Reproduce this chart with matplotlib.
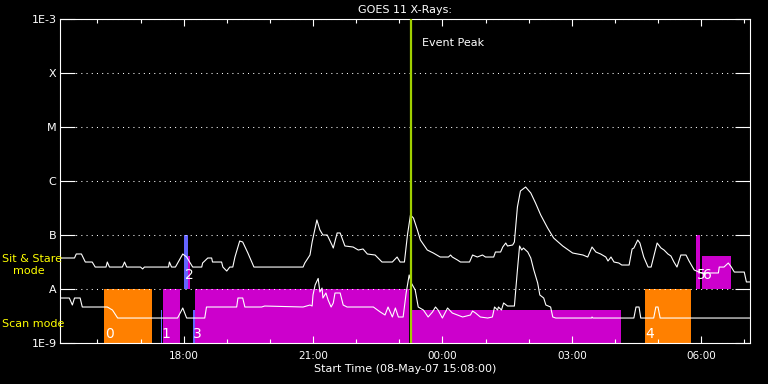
import matplotlib
matplotlib.use("Agg")
import matplotlib.pyplot as plt
from matplotlib.ticker import FixedLocator, NullLocator

# hours counted from 00:00 on 08-May-07 (values > 24 are on 09-May)
t_start = 15 + 8 / 60.0
t_end = t_start + 16.0
event_peak = 23.28

# GOES 11 long channel (1-8 A), W/m^2
time_long = [15.12, 15.47, 15.51, 15.63, 15.72, 15.88, 15.95, 16.09, 16.20, 16.23,
             16.28, 16.58, 16.63, 16.68, 17.00, 17.05, 17.09, 17.65, 17.67, 17.72,
             17.81, 17.98, 18.07, 18.21, 18.42, 18.44, 18.56, 18.65, 18.67, 18.88,
             18.91, 19.00, 19.07, 19.14, 19.19, 19.30, 19.37, 19.49, 19.63, 20.77,
             20.81, 20.93, 20.98, 21.09, 21.16, 21.23, 21.33, 21.44, 21.47, 21.56,
             21.63, 21.74, 21.93, 22.05, 22.16, 22.26, 22.44, 22.60, 22.84, 22.95,
             23.02, 23.12, 23.19, 23.26, 23.33, 23.42, 23.49, 23.65, 23.79, 23.95,
             24.14, 24.19, 24.23, 24.35, 24.42, 24.63, 24.70, 24.81, 24.93, 25.00,
             25.19, 25.23, 25.35, 25.40, 25.47, 25.51, 25.63, 25.67, 25.74, 25.81,
             25.93, 26.05, 26.16, 26.28, 26.44, 26.58, 26.79, 27.02, 27.26, 27.37,
             27.47, 27.56, 27.67, 27.79, 27.84, 27.91, 27.98, 28.09, 28.16, 28.33,
             28.40, 28.44, 28.53, 28.58, 28.67, 28.77, 28.84, 28.91, 28.98, 29.07,
             29.14, 29.23, 29.30, 29.37, 29.44, 29.53, 29.65, 29.72, 29.84, 30.00,
             30.40, 30.42, 30.53, 30.63, 30.70, 30.77, 31.00, 31.05, 31.16]
flux_long = [3.75e-8, 3.75e-8, 4.45e-8, 4.45e-8, 3.16e-8, 3.16e-8, 2.55e-8, 2.55e-8, 2.55e-8, 3.16e-8,
             2.55e-8, 2.55e-8, 3.16e-8, 2.55e-8, 2.55e-8, 2.35e-8, 2.55e-8, 2.55e-8, 3.16e-8, 2.55e-8,
             2.55e-8, 4.45e-8, 3.91e-8, 2.55e-8, 2.55e-8, 3.03e-8, 3.75e-8, 3.75e-8, 3.16e-8, 3.16e-8,
             2.55e-8, 2.15e-8, 2.55e-8, 2.55e-8, 3.91e-8, 7.74e-8, 7.42e-8, 4.64e-8, 2.55e-8, 2.55e-8,
             3.03e-8, 4.26e-8, 7.42e-8, 1.90e-7, 1.24e-7, 1.00e-7, 1.00e-7, 6.53e-8, 5.74e-8, 1.09e-7,
             1.09e-7, 6.26e-8, 5.99e-8, 5.27e-8, 5.51e-8, 4.45e-8, 4.26e-8, 3.16e-8, 3.16e-8, 3.91e-8,
             3.16e-8, 3.16e-8, 1.00e-7, 2.35e-7, 2.06e-7, 1.24e-7, 8.08e-8, 5.27e-8, 4.64e-8, 3.91e-8,
             3.91e-8, 4.26e-8, 3.91e-8, 3.44e-8, 3.16e-8, 3.16e-8, 4.26e-8, 3.91e-8, 4.26e-8, 3.91e-8,
             3.91e-8, 4.84e-8, 4.84e-8, 5.99e-8, 7.11e-8, 6.26e-8, 6.53e-8, 7.42e-8, 3.30e-7, 6.53e-7,
             7.74e-7, 6.00e-7, 3.91e-7, 2.35e-7, 1.35e-7, 8.80e-8, 6.26e-8, 4.64e-8, 4.26e-8, 3.91e-8,
             5.99e-8, 4.84e-8, 4.45e-8, 3.91e-8, 3.30e-8, 3.91e-8, 3.16e-8, 3.03e-8, 2.78e-8, 2.78e-8,
             5.51e-8, 5.74e-8, 8.08e-8, 7.11e-8, 3.91e-8, 2.55e-8, 2.55e-8, 4.26e-8, 7.11e-8, 5.74e-8,
             5.27e-8, 4.45e-8, 4.08e-8, 3.16e-8, 2.55e-8, 4.26e-8, 4.26e-8, 3.30e-8, 2.25e-8, 1.98e-8,
             1.98e-8, 2.55e-8, 2.55e-8, 3.03e-8, 2.55e-8, 2.06e-8, 2.06e-8, 1.35e-8, 1.35e-8]

# GOES 11 short channel (0.5-4 A), W/m^2
time_short = [15.12, 15.35, 15.42, 15.47, 15.60, 15.65, 16.23, 16.35, 16.47, 17.86,
              17.98, 18.07, 18.49, 18.53, 19.23, 19.26, 19.37, 19.42, 19.81, 19.88,
              20.77, 20.93, 20.98, 21.00, 21.05, 21.12, 21.16, 21.21, 21.23, 21.30,
              21.35, 21.42, 21.47, 21.51, 21.63, 21.70, 21.79, 22.40, 22.56, 22.67,
              22.74, 22.84, 22.91, 22.98, 23.09, 23.16, 23.23, 23.28, 23.37, 23.44,
              23.56, 23.67, 23.77, 23.84, 23.90, 24.00, 24.12, 24.23, 24.35, 24.47,
              24.65, 24.70, 24.77, 24.88, 25.05, 25.16, 25.21, 25.28, 25.30, 25.37,
              25.42, 25.51, 25.67, 25.74, 25.79, 25.84, 25.88, 25.98, 26.05, 26.12,
              26.21, 26.26, 26.35, 26.40, 26.51, 26.56, 26.63, 27.46, 27.47, 27.49,
              28.44, 28.49, 28.56, 28.60, 28.90, 28.95, 29.00, 29.05, 31.16]
flux_short = [6.81e-9, 6.81e-9, 5.05e-9, 6.81e-9, 6.81e-9, 4.64e-9, 4.64e-9, 4.08e-9, 2.90e-9, 2.90e-9,
              4.45e-9, 2.90e-9, 2.90e-9, 4.64e-9, 4.64e-9, 6.81e-9, 6.81e-9, 4.64e-9, 4.64e-9, 4.84e-9,
              4.64e-9, 5.05e-9, 4.84e-9, 7.74e-9, 1.19e-8, 1.57e-8, 8.80e-9, 1.04e-8, 6.81e-9, 8.43e-9,
              6.26e-9, 4.64e-9, 5.51e-9, 8.43e-9, 8.43e-9, 5.05e-9, 4.64e-9, 4.64e-9, 3.75e-9, 3.30e-9,
              4.64e-9, 3.03e-9, 4.45e-9, 3.03e-9, 3.03e-9, 8.43e-9, 1.82e-8, 1.29e-8, 9.58e-9, 4.64e-9,
              4.08e-9, 3.03e-9, 3.75e-9, 4.64e-9, 4.08e-9, 2.90e-9, 4.45e-9, 3.59e-9, 3.30e-9, 3.03e-9,
              3.30e-9, 3.91e-9, 3.59e-9, 3.03e-9, 2.90e-9, 3.03e-9, 4.64e-9, 4.08e-9, 4.64e-9, 4.08e-9,
              5.51e-9, 4.84e-9, 4.84e-9, 2.25e-8, 6.26e-8, 5.27e-8, 5.74e-8, 4.84e-8, 3.75e-8, 2.25e-8,
              1.29e-8, 7.74e-9, 6.81e-9, 5.05e-9, 4.64e-9, 3.03e-9, 2.90e-9, 2.90e-9, 3.03e-9, 2.90e-9,
              2.90e-9, 4.64e-9, 4.64e-9, 2.90e-9, 2.90e-9, 4.64e-9, 4.64e-9, 2.90e-9, 2.90e-9]

# observations: start, end, top flux, mode, colour, label
obs_start = [16.16, 17.47, 17.53, 18.21, 18.26, 23.28, 28.70, 18.02, 18.09, 29.88, 30.02]
obs_end = [17.26, 17.51, 17.91, 18.26, 23.23, 28.14, 29.77, 18.09, 18.14, 29.98, 30.70]
obs_top = [1e-8, 4.1e-9, 1e-8, 4.1e-9, 1e-8, 4.1e-9, 1e-8, 1e-7, 4.1e-8, 1e-7, 4.1e-8]
obs_mode = ["scan", "scan", "scan", "scan", "scan", "scan", "scan",
            "stare", "stare", "stare", "stare"]
obs_color = ["#ff8000", "#6464ff", "#cc00cc", "#6464ff", "#cc00cc", "#cc00cc", "#ff8000",
             "#6464ff", "#cc00cc", "#cc00cc", "#cc00cc"]
obs_label = ["0", "1", "", "3", "", "", "4", "2", "", "5", "6"]

band_bottom = {"scan": 1e-9, "stare": 1e-8}
label_offset = {"scan": 3.6, "stare": 7.0}

y_ticks = [1e-9, 1e-8, 1e-7, 1e-6, 1e-5, 1e-4, 1e-3]
y_labels = ["1E-9", "A", "B", "C", "M", "X", "1E-3"]
x_ticks = [18, 21, 24, 27, 30]
x_labels = ["18:00", "21:00", "00:00", "03:00", "06:00"]
x_minor = [16, 17, 19, 20, 22, 23, 25, 26, 28, 29, 31]

fig = plt.figure(figsize=(7.68, 3.84), dpi=100, facecolor="black")
ax = fig.add_axes([60 / 768, 41 / 384, 690 / 768, 324 / 384])
ax.set_facecolor("black")
ax.set_yscale("log")
ax.set_xlim(t_start, t_end)
ax.set_ylim(1e-9, 1e-3)

for s, e, top, mode, c in zip(obs_start, obs_end, obs_top, obs_mode, obs_color):
    b = band_bottom[mode]
    ax.fill_between([s, e], b, top, color=c, linewidth=0, zorder=1)

ax.plot(time_long, flux_long, color="white", lw=0.8, zorder=3)
ax.plot(time_short, flux_short, color="white", lw=0.8, zorder=3)

for s, mode, lab in zip(obs_start, obs_mode, obs_label):
    if lab:
        ax.annotate(lab, (s, band_bottom[mode]), xytext=(0.5, label_offset[mode]),
                    textcoords="offset points", color="white", fontsize=10,
                    va="baseline", ha="left", zorder=5)

ax.axvline(event_peak, color="#a0d000", lw=1.6, zorder=4)
ax.text(event_peak + 0.25, 0.927, "Event Peak", color="white", fontsize=8,
        va="center", ha="left", transform=ax.get_xaxis_transform())

ax.yaxis.set_major_locator(FixedLocator(y_ticks))
ax.yaxis.set_minor_locator(NullLocator())
ax.set_yticklabels(y_labels)
ax.xaxis.set_major_locator(FixedLocator(x_ticks))
ax.xaxis.set_minor_locator(FixedLocator(x_minor))
ax.set_xticklabels(x_labels)

ax.grid(axis="y", which="major", color="white", lw=0.75, linestyle=(0, (1, 4)), zorder=0)
ax.tick_params(axis="y", which="major", direction="in", length=10.8, width=0.8,
               colors="white", left=True, right=True, labelsize=8, pad=2.5)
ax.tick_params(axis="x", which="major", direction="in", length=5, width=0.8,
               colors="white", top=True, bottom=True, labelsize=7.5, pad=6)
ax.tick_params(axis="x", which="minor", direction="in", length=2.8, width=0.8,
               colors="white", top=True, bottom=True)
for sp in ax.spines.values():
    sp.set_color("white")
    sp.set_linewidth(0.8)

ax.set_title("GOES 11 X-Rays:", color="white", fontsize=8, pad=4)
ax.set_xlabel("Start Time (08-May-07 15:08:00)", color="white", fontsize=8, labelpad=2)

fig.text(2 / 768, 1 - 259 / 384, "Sit & Stare", color="yellow", fontsize=8,
         va="center", ha="left")
fig.text(13 / 768, 1 - 271 / 384, "mode", color="yellow", fontsize=8,
         va="center", ha="left")
fig.text(2 / 768, 1 - 324 / 384, "Scan mode", color="yellow", fontsize=8,
         va="center", ha="left")

fig.savefig("out.png", dpi=100, facecolor="black")
